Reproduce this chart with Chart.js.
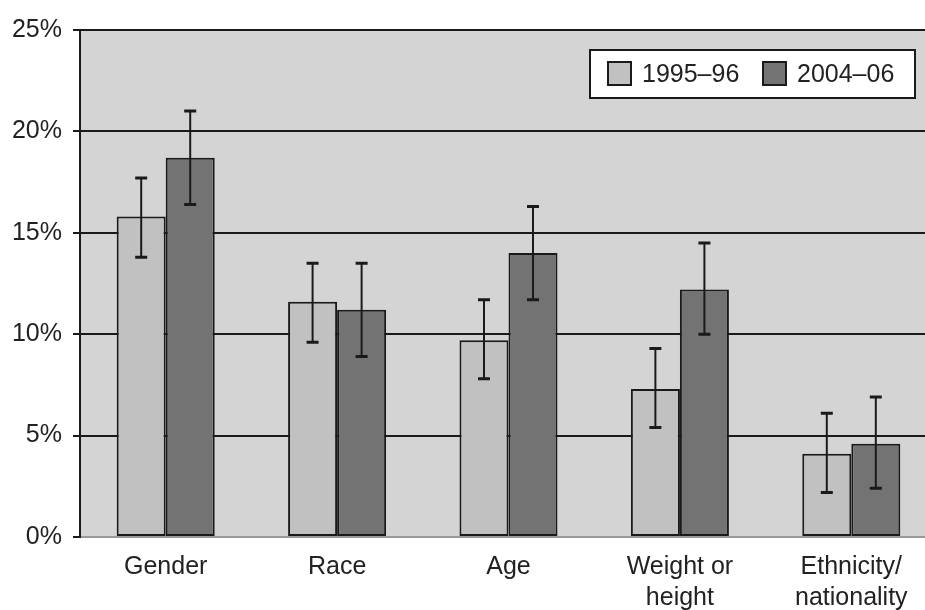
<!DOCTYPE html>
<html>
<head>
<meta charset="utf-8">
<script src="https://cdn.jsdelivr.net/npm/chart.js@4/dist/chart.umd.min.js"></script>
<style>
  html, body { margin: 0; padding: 0; background: #fff; overflow: hidden; }
  #wrap { width: 937px; height: 610px; position: relative; }
</style>
</head>
<body>
<div id="wrap"><canvas id="c"></canvas></div>
<script>
// Categories (multi-line labels as arrays)
const categories = [["Gender"], ["Race"], ["Age"], ["Weight or", "height"], ["Ethnicity/", "nationality"]];

// Share of respondents (%) per period
const series1Label = "1995\u201396";
const series1 = [15.8, 11.6, 9.7, 7.3, 4.1];
const series1Low = [13.8, 9.6, 7.8, 5.4, 2.2];
const series1High = [17.7, 13.5, 11.7, 9.3, 6.1];

const series2Label = "2004\u201306";
const series2 = [18.7, 11.2, 14.0, 12.2, 4.6];
const series2Low = [16.4, 8.9, 11.7, 10.0, 2.4];
const series2High = [21.0, 13.5, 16.3, 14.5, 6.9];

const yTicks = [0, 5, 10, 15, 20, 25];

const FONT = "'Liberation Sans', Arial, Helvetica, sans-serif";
const TEXT = "#222";

// Gray plot-area background
const plotBackground = {
  id: "plotBackground",
  beforeDraw(chart) {
    const { ctx, chartArea: a } = chart;
    ctx.save();
    ctx.fillStyle = "#d4d4d4";
    ctx.fillRect(a.left, a.top, a.right - a.left, a.bottom - a.top);
    ctx.restore();
  }
};

// Confidence-interval whiskers on each bar
const errorBars = {
  id: "errorBars",
  afterDatasetsDraw(chart) {
    const { ctx } = chart;
    const y = chart.scales.y;
    ctx.save();
    ctx.strokeStyle = "#1a1a1a";
    chart.data.datasets.forEach((ds, di) => {
      const meta = chart.getDatasetMeta(di);
      meta.data.forEach((bar, i) => {
        const x = bar.x;
        const yl = y.getPixelForValue(ds.errLow[i]);
        const yh = y.getPixelForValue(ds.errHigh[i]);
        ctx.lineWidth = 2;
        ctx.beginPath();
        ctx.moveTo(x, yl);
        ctx.lineTo(x, yh);
        ctx.stroke();
        ctx.lineWidth = 3;
        ctx.beginPath();
        ctx.moveTo(x - 6, yl);
        ctx.lineTo(x + 6, yl);
        ctx.moveTo(x - 6, yh);
        ctx.lineTo(x + 6, yh);
        ctx.stroke();
      });
    });
    ctx.restore();
  }
};

// Boxed legend inside the plot, upper right
const boxedLegend = {
  id: "boxedLegend",
  afterDraw(chart) {
    const { ctx } = chart;
    const left = 590, top = 50, w = 325, h = 48;
    ctx.save();
    ctx.fillStyle = "#fff";
    ctx.fillRect(left, top, w, h);
    ctx.strokeStyle = "#1a1a1a";
    ctx.lineWidth = 2;
    ctx.strokeRect(left, top, w, h);
    ctx.font = "25px " + FONT;
    ctx.textBaseline = "middle";
    ctx.textAlign = "left";
    const items = [
      { x: 608, ds: chart.data.datasets[0] },
      { x: 763, ds: chart.data.datasets[1] }
    ];
    items.forEach(it => {
      ctx.fillStyle = it.ds.backgroundColor;
      ctx.fillRect(it.x, 62, 23, 23);
      ctx.lineWidth = 2;
      ctx.strokeStyle = "#1a1a1a";
      ctx.strokeRect(it.x, 62, 23, 23);
      ctx.fillStyle = TEXT;
      ctx.fillText(it.ds.label, it.x + 34, 75);
    });
    ctx.restore();
  }
};

new Chart(document.getElementById("c"), {
  type: "bar",
  data: {
    labels: categories,
    datasets: [
      {
        label: series1Label,
        data: series1,
        errLow: series1Low,
        errHigh: series1High,
        backgroundColor: "#c1c1c1",
        borderColor: "#1a1a1a",
        borderWidth: 2,
        borderSkipped: false
      },
      {
        label: series2Label,
        data: series2,
        errLow: series2Low,
        errHigh: series2High,
        backgroundColor: "#737373",
        borderColor: "#1a1a1a",
        borderWidth: 2,
        borderSkipped: false
      }
    ]
  },
  options: {
    responsive: true,
    maintainAspectRatio: false,
    animation: false,
    devicePixelRatio: 1,
    layout: { padding: { top: 30, right: 0, left: 0, bottom: 0 } },
    plugins: {
      legend: { display: false },
      tooltip: { enabled: false }
    },
    datasets: {
      bar: { categoryPercentage: 0.572, barPercentage: 1.0 }
    },
    scales: {
      x: {
        offset: true,
        grid: { display: false, drawTicks: false },
        border: { display: false },
        ticks: {
          color: TEXT,
          padding: 14,
          maxRotation: 0,
          autoSkip: false,
          font: { family: FONT, size: 25, lineHeight: 1.25 }
        },
        afterFit(scale) { scale.height = 73; }
      },
      y: {
        min: 0,
        max: 25,
        afterBuildTicks(scale) { scale.ticks = yTicks.map(v => ({ value: v })); },
        grid: {
          color: ctx => (ctx.tick && ctx.tick.value === 0 ? "#9a9a9a" : "#1a1a1a"),
          lineWidth: 2,
          tickLength: 7,
          tickColor: "#1a1a1a",
          drawTicks: true
        },
        border: { display: true, color: "#1a1a1a", width: 2 },
        ticks: {
          color: TEXT,
          padding: 11,
          font: { family: FONT, size: 25 },
          callback: v => v + "%"
        },
        afterFit(scale) { scale.width = 80; }
      }
    }
  },
  plugins: [plotBackground, errorBars, boxedLegend]
});
</script>
</body>
</html>
